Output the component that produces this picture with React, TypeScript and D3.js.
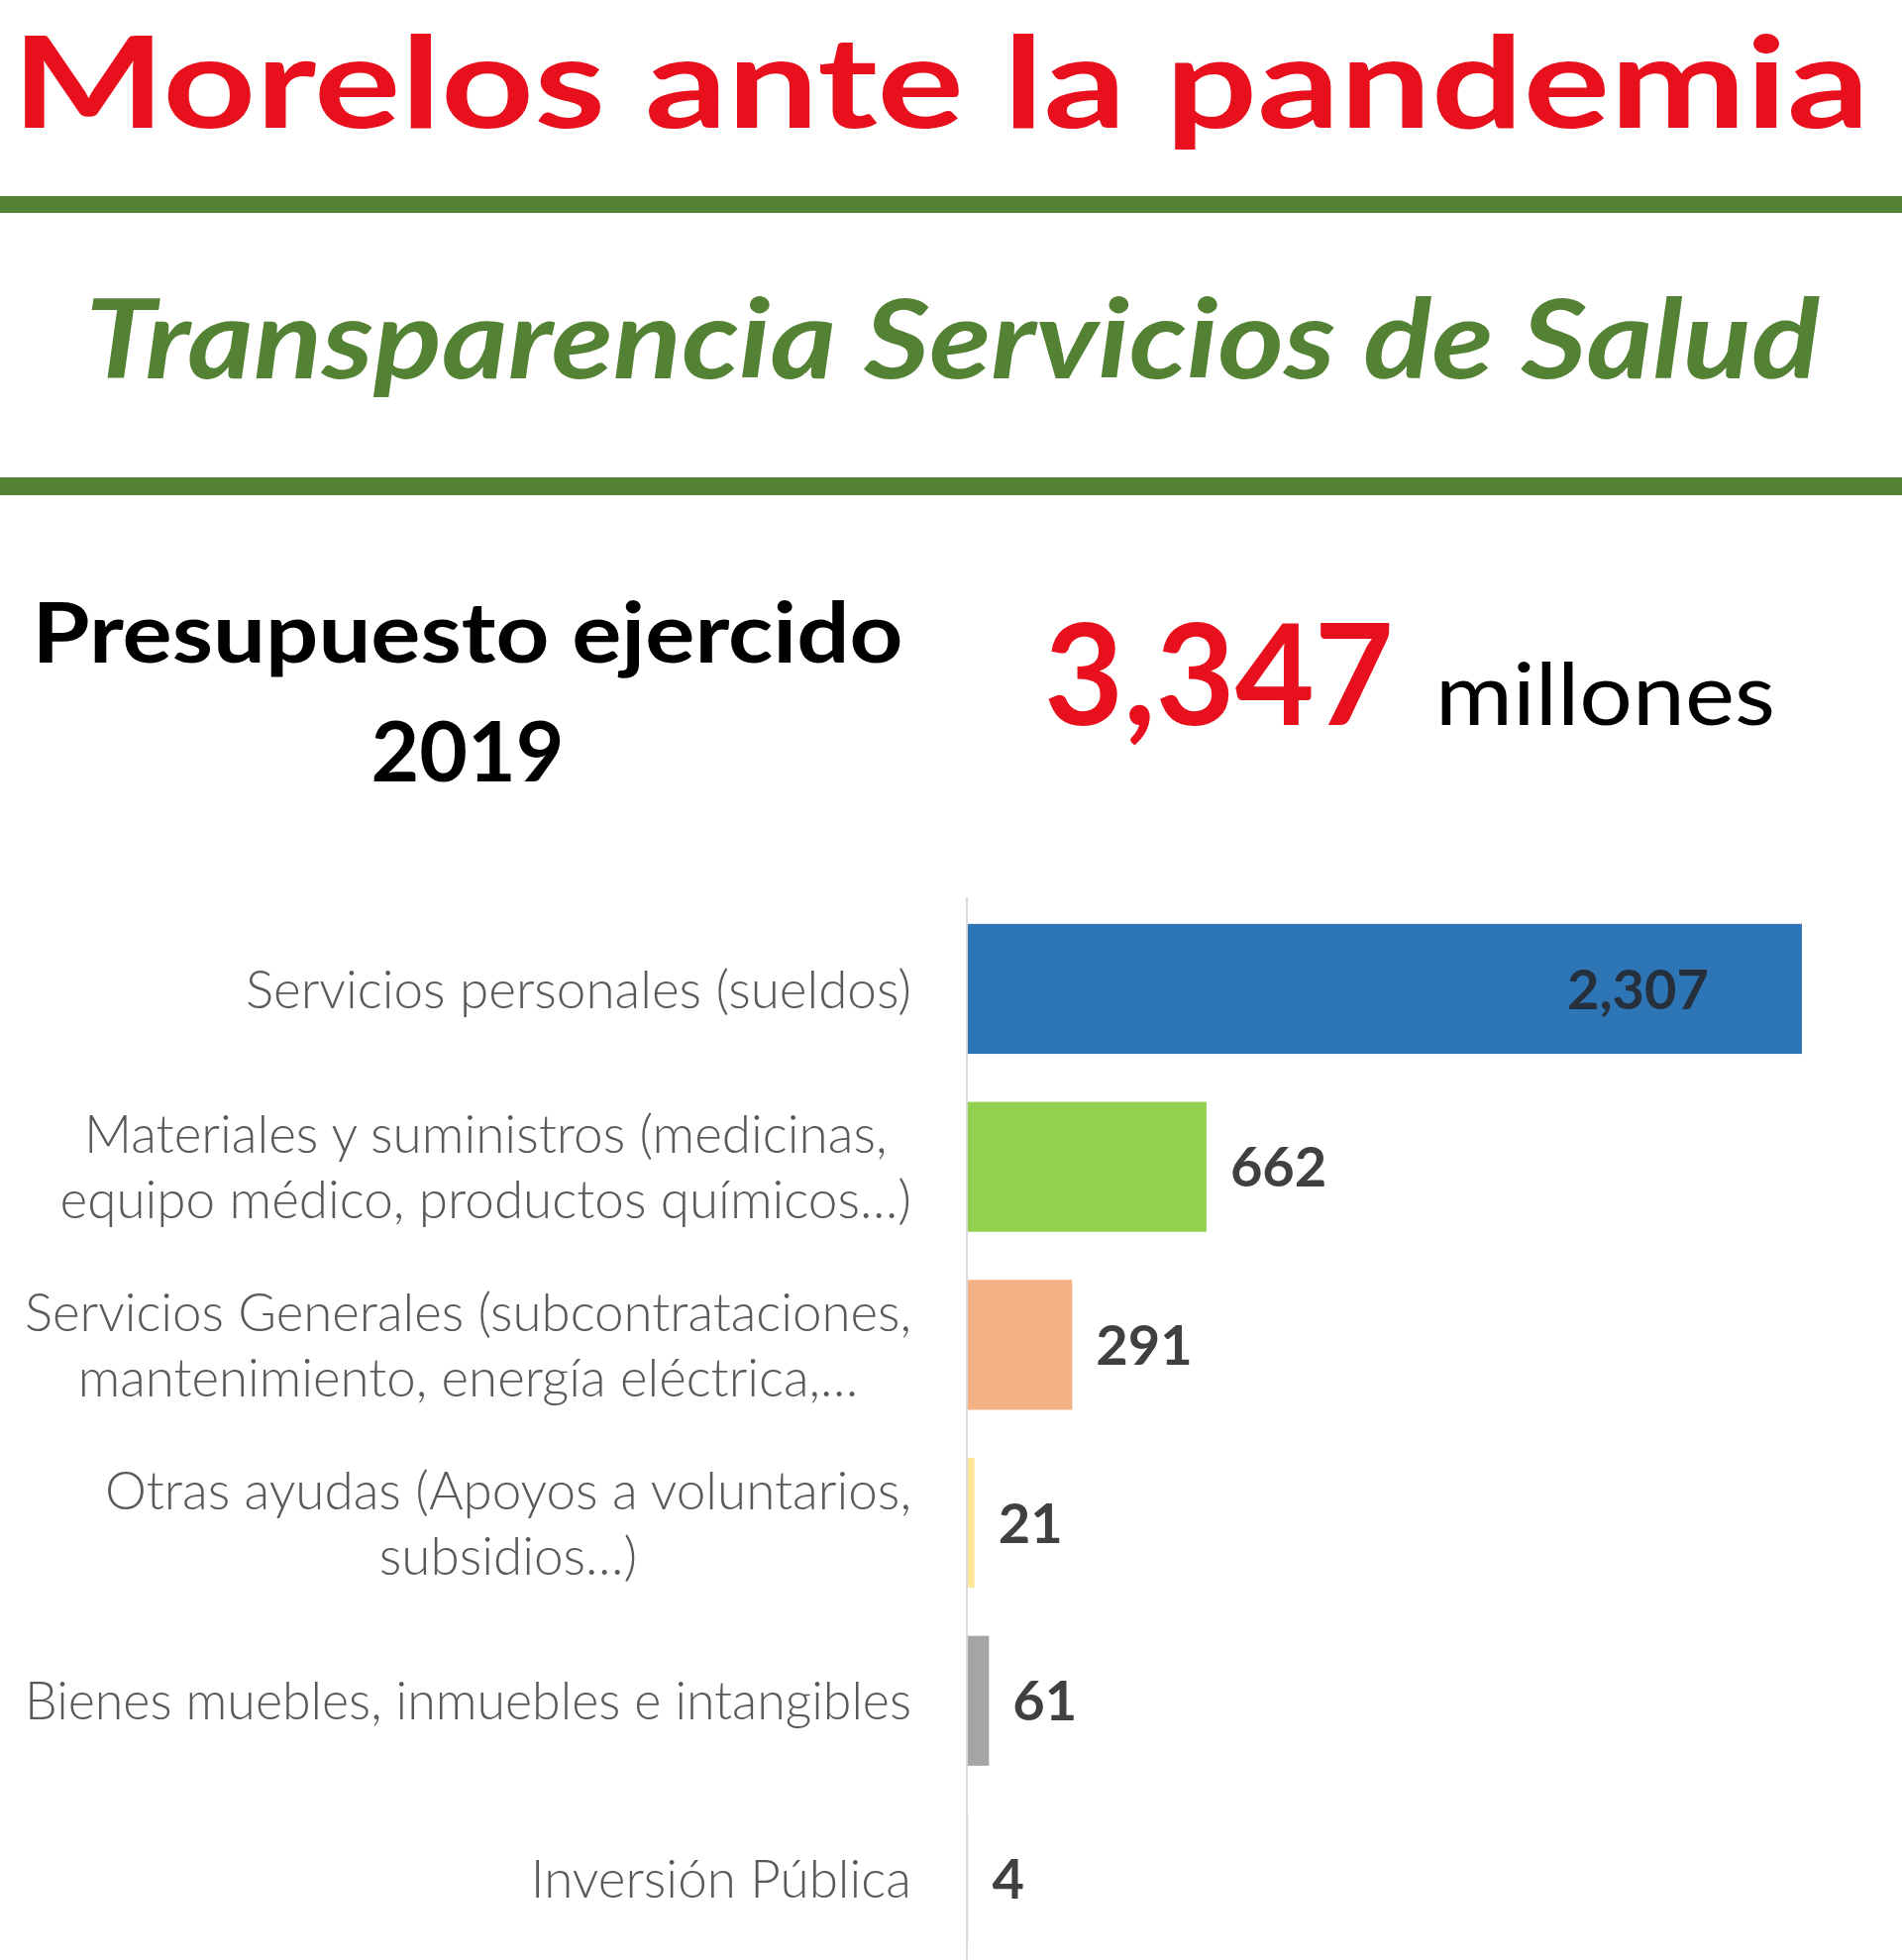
import * as d3 from "d3";
import React, { useEffect, useRef } from "react";

// chart content
const title = "Morelos ante la pandemia";
const subtitle = "Transparencia Servicios de Salud";
const budgetLabel = ["Presupuesto ejercido", "2019"];
const budgetTotal = "3,347";
const budgetUnit = "millones";

const categories = [
  "Servicios personales",
  "Materiales y suministros",
  "Servicios Generales",
  "Otras ayudas",
  "Bienes muebles",
  "Inversión Pública",
];
const labelLines = [
  ["Servicios personales (sueldos)"],
  ["Materiales y suministros (medicinas,", "equipo médico, productos químicos…)"],
  ["Servicios Generales (subcontrataciones,", "mantenimiento, energía eléctrica,…"],
  ["Otras ayudas (Apoyos a voluntarios,", "subsidios…)"],
  ["Bienes muebles, inmuebles e intangibles"],
  ["Inversión Pública"],
];
const values = [2307, 662, 291, 21, 61, 4];
const colors = ["#2e75b6", "#92d050", "#f4b183", "#ffe699", "#a5a5a5", "#e7eef8"];

export default function App() {
  const svgRef = useRef<SVGSVGElement>(null);

  useEffect(() => {
    if (!svgRef.current) return;
    document.body.style.margin = "0";
    const width = 1920;
    const height = 1979;
    const font = "Lato, 'Open Sans', sans-serif";
    const green = "#548235";
    const red = "#e8101c";

    const svg = d3
      .select(svgRef.current)
      .attr("width", width)
      .attr("height", height)
      .attr("viewBox", [0, 0, width, height])
      .style("display", "block")
      .style("background", "#fff");

    // Header
    svg
      .append("text")
      .attr("x", 12)
      .attr("y", 129)
      .attr("font-family", font)
      .attr("font-weight", 700)
      .attr("font-size", 128)
      .attr("fill", red)
      .attr("textLength", 1875)
      .attr("lengthAdjust", "spacingAndGlyphs")
      .text(title);

    svg.append("rect").attr("x", 0).attr("y", 198).attr("width", width).attr("height", 17).attr("fill", green);

    svg
      .append("text")
      .attr("x", 86)
      .attr("y", 382)
      .attr("font-family", font)
      .attr("font-weight", 700)
      .attr("font-style", "italic")
      .attr("font-size", 112)
      .attr("fill", green)
      .attr("textLength", 1751)
      .attr("lengthAdjust", "spacingAndGlyphs")
      .text(subtitle);

    svg.append("rect").attr("x", 0).attr("y", 482).attr("width", width).attr("height", 18).attr("fill", green);

    // Budget block
    svg
      .append("g")
      .selectAll("text")
      .data(budgetLabel)
      .join("text")
      .attr("x", 472)
      .attr("y", (_, i) => 669 + i * 120)
      .attr("text-anchor", "middle")
      .attr("font-family", font)
      .attr("font-weight", 700)
      .attr("font-size", 84)
      .attr("fill", "#000")
      .attr("textLength", (_, i) => (i === 0 ? 879 : null))
      .attr("lengthAdjust", "spacingAndGlyphs")
      .text((d) => d);

    svg
      .append("text")
      .attr("x", 1054)
      .attr("y", 732)
      .attr("font-family", font)
      .attr("font-weight", 700)
      .attr("font-size", 142)
      .attr("fill", red)
      .attr("textLength", 353)
      .attr("lengthAdjust", "spacingAndGlyphs")
      .text(budgetTotal);

    svg
      .append("text")
      .attr("x", 1449)
      .attr("y", 732)
      .attr("font-family", font)
      .attr("font-weight", 400)
      .attr("font-size", 88)
      .attr("fill", "#000")
      .attr("textLength", 343)
      .attr("lengthAdjust", "spacingAndGlyphs")
      .text(budgetUnit);

    // Bar chart
    const axisX = 976;
    const x = d3.scaleLinear().domain([0, d3.max(values) ?? 1]).range([axisX, 1819]);
    const y = d3.scaleBand<string>().domain(categories).range([908.6, 1986.8]).paddingInner(0.27).paddingOuter(0.135);

    svg
      .append("line")
      .attr("x1", axisX)
      .attr("x2", axisX)
      .attr("y1", 906)
      .attr("y2", height)
      .attr("stroke", "#d9d9d9")
      .attr("stroke-width", 2);

    svg
      .append("g")
      .selectAll("rect")
      .data(values)
      .join("rect")
      .attr("x", axisX + 1)
      .attr("y", (_, i) => y(categories[i]) ?? 0)
      .attr("width", (d) => Math.max(0, x(d) - axisX - 1))
      .attr("height", y.bandwidth())
      .attr("fill", (_, i) => colors[i]);

    // value labels
    const fmt = d3.format(",");
    svg
      .append("g")
      .selectAll("text")
      .data(values)
      .join("text")
      .attr("x", (d) => (x(d) - axisX > 400 ? x(d) - 94 : x(d) + 24))
      .attr("y", (_, i) => (y(categories[i]) ?? 0) + y.bandwidth() / 2)
      .attr("dy", "0.36em")
      .attr("text-anchor", (d) => (x(d) - axisX > 400 ? "end" : "start"))
      .attr("font-family", font)
      .attr("font-weight", 700)
      .attr("font-size", 56)
      .attr("fill", (d) => (x(d) - axisX > 400 ? "#26303c" : "#404040"))
      .text((d) => fmt(d));

    // category labels: block right-aligned, lines centred within block,
    // squeezed when a line would run past the left edge
    const labelRight = 920;
    const maxBlock = 895;
    const lineH = 66;
    labelLines.forEach((lines, i) => {
      const cy = (y(categories[i]) ?? 0) + y.bandwidth() / 2;
      const g = svg.append("g");
      const texts = g
        .selectAll("text")
        .data(lines)
        .join("text")
        .attr("y", (_, j) => cy + (j - (lines.length - 1) / 2) * lineH)
        .attr("dy", "0.36em")
        .attr("text-anchor", "middle")
        .attr("font-family", font)
        .attr("font-weight", 300)
        .attr("font-size", 53)
        .attr("fill", "#595959")
        .text((d) => d);
      const widths: number[] = [];
      texts.each(function () {
        widths.push((this as SVGTextElement).getComputedTextLength());
      });
      const maxW = d3.max(widths) ?? 0;
      const k = maxW > maxBlock ? maxBlock / maxW : 1;
      if (k < 1) {
        texts.attr("textLength", (_, j) => widths[j] * k).attr("lengthAdjust", "spacingAndGlyphs");
      }
      texts.attr("x", labelRight - (maxW * k) / 2);
    });

    return () => {
      d3.select(svgRef.current).selectAll("*").remove();
    };
  }, []);

  return <svg ref={svgRef} />;
}
